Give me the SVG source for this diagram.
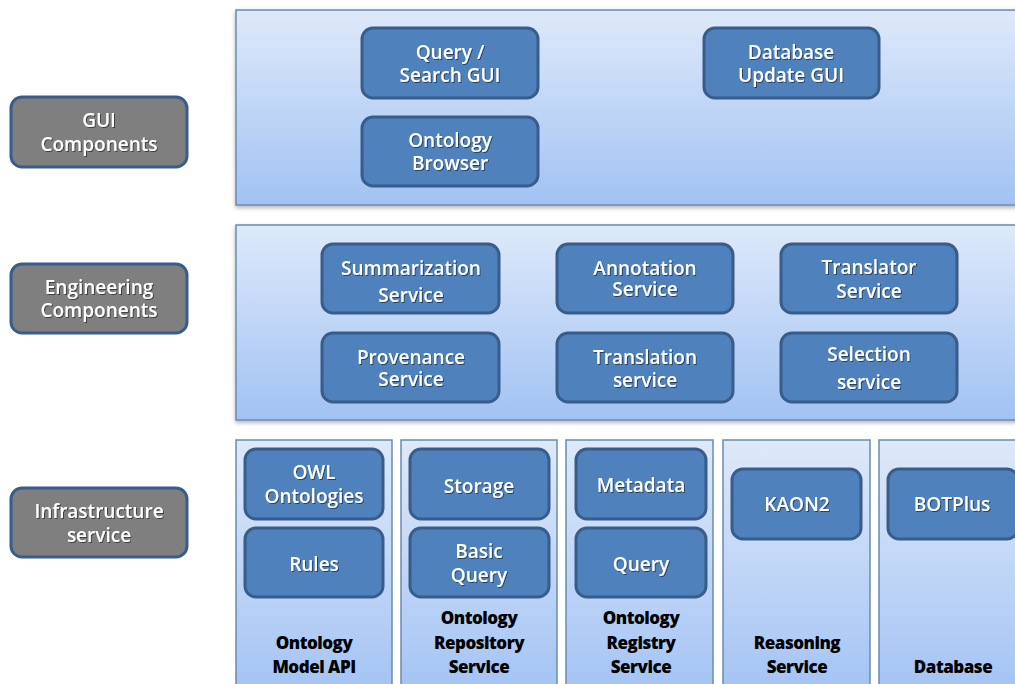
<svg xmlns="http://www.w3.org/2000/svg" width="1015" height="684" viewBox="0 0 1015 684">
<defs>
<linearGradient id="pg" x1="0" y1="0" x2="0" y2="1">
<stop offset="0" stop-color="#DEE9FA"/>
<stop offset="1" stop-color="#A2C2F3"/>
</linearGradient>
<filter id="sh" x="-5%" y="-5%" width="110%" height="115%">
<feDropShadow dx="0" dy="2" stdDeviation="2" flood-color="#000" flood-opacity="0.3"/>
</filter>
<filter id="ts" x="-10%" y="-20%" width="120%" height="140%">
<feDropShadow dx="1" dy="1" stdDeviation="0.6" flood-color="#000" flood-opacity="0.5"/>
</filter>
</defs>
<style>
.panel{fill:url(#pg);stroke:#6A8CAE;stroke-width:1.5;}
.node{fill:#4F81BD;stroke:#385D8A;stroke-width:3;}
.gray{fill:#7F7F7F;stroke:#385D8A;stroke-width:3;}
.t{font-family:"Open Sans","DejaVu Sans",sans-serif;font-size:19px;font-weight:600;fill:#fff;text-anchor:middle;dominant-baseline:central;filter:url(#ts);}
.b{font-family:"Open Sans","DejaVu Sans",sans-serif;font-size:17px;font-weight:800;fill:#000;text-anchor:middle;dominant-baseline:central;letter-spacing:-0.5px;}
</style>
<rect width="1015" height="684" fill="#fff"/>
<g id="layers">
<rect class="panel" x="236" y="10" width="800" height="195" filter="url(#sh)"/>
<rect class="panel" x="236" y="225" width="800" height="195" filter="url(#sh)"/>
<rect class="panel" x="236" y="440" width="156" height="260"/>
<rect class="panel" x="401" y="440" width="156" height="260"/>
<rect class="panel" x="566" y="440" width="147" height="260"/>
<rect class="panel" x="723" y="440" width="147" height="260"/>
<rect class="panel" x="879" y="440" width="160" height="260"/>
</g>
<g id="gui-components"><rect class="gray" x="11" y="97" width="176" height="70" rx="11"/><text class="t" x="99" y="120">GUI</text><text class="t" x="99" y="144">Components</text></g>
<g id="engineering-components"><rect class="gray" x="11" y="264" width="176" height="69" rx="11"/><text class="t" x="99" y="287">Engineering</text><text class="t" x="99" y="310">Components</text></g>
<g id="infrastructure-service"><rect class="gray" x="11" y="488" width="176" height="69" rx="11"/><text class="t" x="99" y="511">Infrastructure</text><text class="t" x="99" y="535">service</text></g>
<g id="query-search-gui"><rect class="node" x="362" y="28" width="176" height="70" rx="11"/><text class="t" x="450" y="52">Query /</text><text class="t" x="450" y="75">Search GUI</text></g>
<g id="ontology-browser"><rect class="node" x="362" y="117" width="176" height="69" rx="11"/><text class="t" x="450" y="140">Ontology</text><text class="t" x="450" y="163">Browser</text></g>
<g id="database-update-gui"><rect class="node" x="704" y="28" width="175" height="70" rx="11"/><text class="t" x="791" y="52">Database</text><text class="t" x="791" y="75">Update GUI</text></g>
<g id="summarization-service"><rect class="node" x="322" y="244" width="177" height="69" rx="11"/><text class="t" x="411" y="268">Summarization</text><text class="t" x="411" y="295">Service</text></g>
<g id="annotation-service"><rect class="node" x="557" y="244" width="176" height="69" rx="11"/><text class="t" x="645" y="268">Annotation</text><text class="t" x="645" y="289">Service</text></g>
<g id="translator-service"><rect class="node" x="781" y="244" width="176" height="69" rx="11"/><text class="t" x="869" y="267">Translator</text><text class="t" x="869" y="291">Service</text></g>
<g id="provenance-service"><rect class="node" x="322" y="333" width="177" height="69" rx="11"/><text class="t" x="411" y="357">Provenance</text><text class="t" x="411" y="379">Service</text></g>
<g id="translation-service"><rect class="node" x="557" y="333" width="176" height="69" rx="11"/><text class="t" x="645" y="357">Translation</text><text class="t" x="645" y="380">service</text></g>
<g id="selection-service"><rect class="node" x="781" y="333" width="176" height="69" rx="11"/><text class="t" x="869" y="354">Selection</text><text class="t" x="869" y="382">service</text></g>
<g id="owl-ontologies"><rect class="node" x="245" y="449" width="138" height="70" rx="11"/><text class="t" x="314" y="472">OWL</text><text class="t" x="314" y="496">Ontologies</text></g>
<g id="rules"><rect class="node" x="245" y="528" width="138" height="69" rx="11"/><text class="t" x="314" y="564">Rules</text></g>
<g id="storage"><rect class="node" x="410" y="449" width="139" height="70" rx="11"/><text class="t" x="479" y="486">Storage</text></g>
<g id="basic-query"><rect class="node" x="410" y="528" width="139" height="69" rx="11"/><text class="t" x="479" y="551">Basic</text><text class="t" x="479" y="575">Query</text></g>
<g id="metadata"><rect class="node" x="576" y="449" width="130" height="70" rx="11"/><text class="t" x="641" y="485">Metadata</text></g>
<g id="query"><rect class="node" x="576" y="528" width="130" height="69" rx="11"/><text class="t" x="641" y="564">Query</text></g>
<g id="kaon2"><rect class="node" x="732" y="469" width="129" height="70" rx="11"/><text class="t" x="797" y="504">KAON2</text></g>
<g id="botplus"><rect class="node" x="888" y="469" width="130" height="70" rx="11"/><text class="t" x="952" y="504">BOTPlus</text></g>
<g id="ontology-model-api"><text class="b" x="314" y="642">Ontology</text><text class="b" x="314" y="666">Model API</text></g>
<g id="ontology-repository-service"><text class="b" x="479" y="617">Ontology</text><text class="b" x="479" y="642">Repository</text><text class="b" x="479" y="666">Service</text></g>
<g id="ontology-registry-service"><text class="b" x="641" y="617">Ontology</text><text class="b" x="641" y="642">Registry</text><text class="b" x="641" y="666">Service</text></g>
<g id="reasoning-service"><text class="b" x="797" y="642">Reasoning</text><text class="b" x="797" y="666">Service</text></g>
<g id="database"><text class="b" x="953" y="666">Database</text></g>
<g id="connectors"></g>
</svg>
